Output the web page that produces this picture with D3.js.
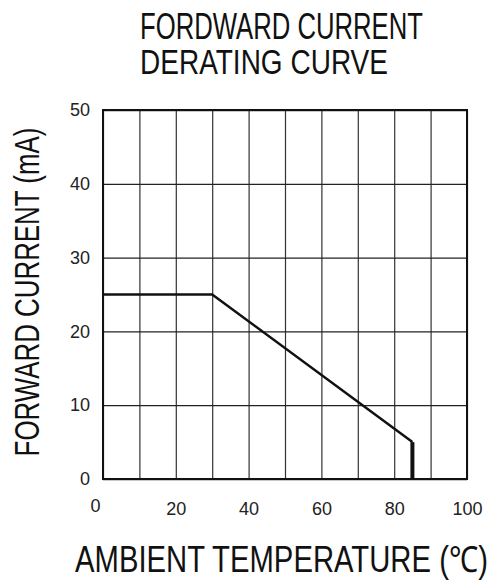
<!DOCTYPE html>
<html>
<head>
<meta charset="utf-8">
<script src="https://cdn.jsdelivr.net/npm/d3@7"></script>
<style>
  body { margin: 0; background: #fff; }
  svg { display: block; font-family: "Liberation Sans", Arial, sans-serif; }
</style>
</head>
<body>
<svg id="chart" width="502" height="581"></svg>
<script>
// data
const temps = [0, 30, 85, 85]
const currents = [25, 25, 5, 0]
const xGrid = [0, 10, 20, 30, 40, 50, 60, 70, 80, 90, 100]
const xLabels = [0, 20, 40, 60, 80, 100]
const yGrid = [0, 10, 20, 30, 40, 50]

const svg = d3.select("#chart")
const margin = { top: 110, right: 35, bottom: 102, left: 103 }
const width = 502 - margin.left - margin.right
const height = 581 - margin.top - margin.bottom

const x = d3.scaleLinear().domain([0, 100]).range([margin.left, margin.left + width])
const y = d3.scaleLinear().domain([0, 50]).range([margin.top + height, margin.top])

// squeeze a text horizontally so it covers the given width
const fitText = (sel, { x0, y0, w, rotate = 0, anchor = "start" }) => {
  const len = sel.node().getComputedTextLength()
  const k = w / len
  sel.attr("text-anchor", anchor)
    .attr("transform", `translate(${x0},${y0}) rotate(${rotate}) scale(${k},1)`)
}

// vertical grid
svg.append("g")
  .attr("transform", `translate(0,${margin.top})`)
  .call(d3.axisBottom(x).tickValues(xGrid).tickSize(height).tickFormat(""))
  .call(g => g.select(".domain").remove())
  .call(g => g.selectAll(".tick line").attr("stroke", "#333").attr("stroke-width", 1.2))

// horizontal grid
svg.append("g")
  .attr("transform", `translate(${margin.left},0)`)
  .call(d3.axisRight(y).tickValues(yGrid).tickSize(width).tickFormat(""))
  .call(g => g.select(".domain").remove())
  .call(g => g.selectAll(".tick line").attr("stroke", "#222").attr("stroke-width", 1.3))

// frame
svg.append("rect")
  .attr("x", margin.left).attr("y", margin.top)
  .attr("width", width).attr("height", height)
  .attr("fill", "none").attr("stroke", "#111").attr("stroke-width", 2)

// tick labels
svg.append("g")
  .attr("transform", `translate(0,${margin.top + height + 23})`)
  .call(d3.axisBottom(x).tickValues(xLabels).tickSize(0).tickPadding(0))
  .call(g => g.select(".domain").remove())
  .call(g => g.selectAll("text").attr("font-size", 18).attr("fill", "#222")
    .attr("font-family", "Liberation Sans, Arial, sans-serif")
    .attr("dx", d => d === 0 ? -8 : 0)
    .attr("dy", d => d === 0 ? "0.55em" : "0.71em"))

svg.append("g")
  .attr("transform", `translate(${margin.left - 13},0)`)
  .call(d3.axisLeft(y).tickValues(yGrid).tickSize(0).tickPadding(0))
  .call(g => g.select(".domain").remove())
  .call(g => g.selectAll("text").attr("font-size", 18).attr("fill", "#222")
    .attr("font-family", "Liberation Sans, Arial, sans-serif"))

// derating curve
const pts = temps.map((t, i) => [t, currents[i]])
svg.append("path")
  .datum(pts.slice(0, 3))
  .attr("d", d3.line().x(d => x(d[0])).y(d => y(d[1])))
  .attr("fill", "none").attr("stroke", "#111").attr("stroke-width", 2.5)

svg.append("path")
  .datum(pts.slice(2))
  .attr("d", d3.line().x(d => x(d[0])).y(d => y(d[1])))
  .attr("fill", "none").attr("stroke", "#111").attr("stroke-width", 4)

// titles
const title = svg.append("g").attr("fill", "#111").attr("font-size", 36)
title.append("text").text("FORDWARD CURRENT")
  .call(fitText, { x0: 140, y0: 39, w: 283 })
title.append("text").text("DERATING CURVE")
  .call(fitText, { x0: 140, y0: 74, w: 248 })

svg.append("text")
  .attr("font-size", 35).attr("fill", "#111")
  .text("FORWARD CURRENT (mA)")
  .call(fitText, { x0: 39, y0: 292, w: 329, rotate: -90, anchor: "middle" })

svg.append("text")
  .attr("font-size", 36).attr("fill", "#111")
  .text("AMBIENT TEMPERATURE (℃)")
  .call(fitText, { x0: 75, y0: 572, w: 413 })
</script>
</body>
</html>
